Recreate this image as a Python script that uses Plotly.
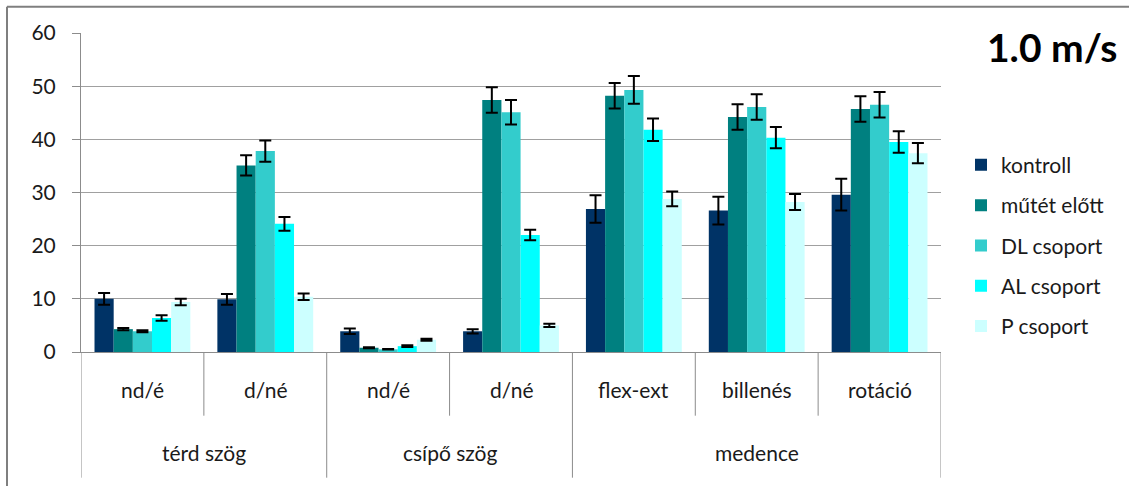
import plotly.graph_objects as go

# Sub-categories (first label row) and their parent groups (second row)
sub_labels = ["nd/é", "d/né", "nd/é", "d/né", "flex-ext", "billenés", "rotáció"]
group_labels = ["térd szög", "csípő szög", "medence"]
group_spans = [(0, 1), (2, 3), (4, 6)]  # first/last sub-category index of each group

series_names = ["kontroll", "műtét előtt", "DL csoport", "AL csoport", "P csoport"]
series_colors = ["#003366", "#008080", "#33CCCC", "#00FFFF", "#CCFFFF"]

kontroll = [10.0, 9.9, 3.9, 3.9, 26.9, 26.6, 29.6]
kontroll_err = [1.1, 1.0, 0.5, 0.4, 2.6, 2.6, 3.0]
mutet_elott = [4.3, 35.1, 0.8, 47.4, 48.2, 44.2, 45.7]
mutet_elott_err = [0.2, 1.9, 0.1, 2.4, 2.4, 2.4, 2.4]
dl_csoport = [3.9, 37.8, 0.5, 45.1, 49.3, 46.1, 46.5]
dl_csoport_err = [0.2, 2.0, 0.05, 2.3, 2.6, 2.4, 2.4]
al_csoport = [6.4, 24.1, 1.1, 22.0, 41.8, 40.3, 39.5]
al_csoport_err = [0.5, 1.3, 0.15, 1.0, 2.1, 2.0, 2.0]
p_csoport = [9.4, 10.4, 2.3, 5.0, 28.8, 28.2, 37.4]
p_csoport_err = [0.6, 0.6, 0.2, 0.3, 1.4, 1.5, 1.9]

y_ticks = [0, 10, 20, 30, 40, 50, 60]
title_text = "1.0 m/s"

values = [kontroll, mutet_elott, dl_csoport, al_csoport, p_csoport]
errors = [kontroll_err, mutet_elott_err, dl_csoport_err, al_csoport_err, p_csoport_err]

FONT = "Lato"
TEXT = "#1a1a1a"
LINE = "#8c8c8c"
LABEL_SIZE = 21

positions = list(range(len(sub_labels)))

fig = go.Figure()
for i, (name, color, vals, errs) in enumerate(zip(series_names, series_colors, values, errors)):
    fig.add_trace(go.Bar(
        x=positions, y=vals, name=name, legendgroup=name,
        marker=dict(color=color, line=dict(width=0)),
        error_y=dict(type="data", array=errs, visible=True,
                     color="#000000", thickness=2, width=6),
    ))

# Pixel-to-paper helpers for the plot box (x: 81..941, y: 33..352)
PX_L, PX_R, PY_T, PY_B = 81.0, 941.0, 33.3, 352.3
def px(xpix):
    return (xpix - PX_L) / (PX_R - PX_L)
def py(ypix):
    return (PY_B - ypix) / (PY_B - PY_T)

shapes = []
# Category boundaries below the axis: long ones close a group, short ones split sub-categories
group_edges = {-0.5} | {b + 0.5 for _, b in group_spans}
for k in range(len(sub_labels) + 1):
    xb = k - 0.5
    bottom = py(478) if xb in group_edges else py(416)
    shapes.append(dict(type="line", xref="x", yref="paper", x0=xb, x1=xb,
                       y0=0, y1=bottom, line=dict(color=LINE, width=1)))

# Outer chart-area frame
shapes.append(dict(type="line", xref="paper", yref="paper", x0=px(7), x1=px(1135),
                   y0=py(7), y1=py(7), line=dict(color="#7f7f7f", width=2)))
shapes.append(dict(type="line", xref="paper", yref="paper", x0=px(7), x1=px(7),
                   y0=py(7), y1=py(490), line=dict(color="#7f7f7f", width=2)))

annotations = []
for i, lab in enumerate(sub_labels):
    annotations.append(dict(x=i, y=py(390), xref="x", yref="paper", text=lab,
                            showarrow=False, xanchor="center", yanchor="middle",
                            font=dict(family=FONT, size=LABEL_SIZE, color=TEXT)))
for lab, (a, b) in zip(group_labels, group_spans):
    annotations.append(dict(x=(a + b) / 2, y=py(453), xref="x", yref="paper", text=lab,
                            showarrow=False, xanchor="center", yanchor="middle",
                            font=dict(family=FONT, size=LABEL_SIZE, color=TEXT)))
annotations.append(dict(x=px(1052), y=py(47), xref="paper", yref="paper",
                        text="<b>" + title_text + "</b>", showarrow=False,
                        xanchor="center", yanchor="middle",
                        font=dict(family=FONT, size=39, color="#000000")))

fig.update_layout(
    width=1129, height=486,
    margin=dict(l=81, r=1129 - 941, t=33, b=486 - 352),
    paper_bgcolor="white", plot_bgcolor="white",
    barmode="group", bargap=0.22, bargroupgap=0,
    showlegend=True,
    legend=dict(x=px(961), y=py(145), xanchor="left", yanchor="top",
                font=dict(family=FONT, size=LABEL_SIZE, color=TEXT),
                tracegroupgap=10, traceorder="grouped",
                bgcolor="rgba(0,0,0,0)"),
    xaxis=dict(range=[-0.5, len(sub_labels) - 0.5], showticklabels=False,
               showgrid=False, zeroline=False, showline=True,
               linecolor=LINE, linewidth=1, ticks=""),
    yaxis=dict(range=[0, 60], tickvals=y_ticks, showgrid=True,
               gridcolor="#a0a0a0", gridwidth=1, zeroline=False,
               showline=True, linecolor=LINE, linewidth=1,
               ticks="outside", ticklen=8, tickcolor=LINE,
               ticklabelstandoff=12,
               tickfont=dict(family=FONT, size=LABEL_SIZE, color=TEXT)),
    shapes=shapes, annotations=annotations,
    font=dict(family=FONT),
)

fig.write_html("out.html")
